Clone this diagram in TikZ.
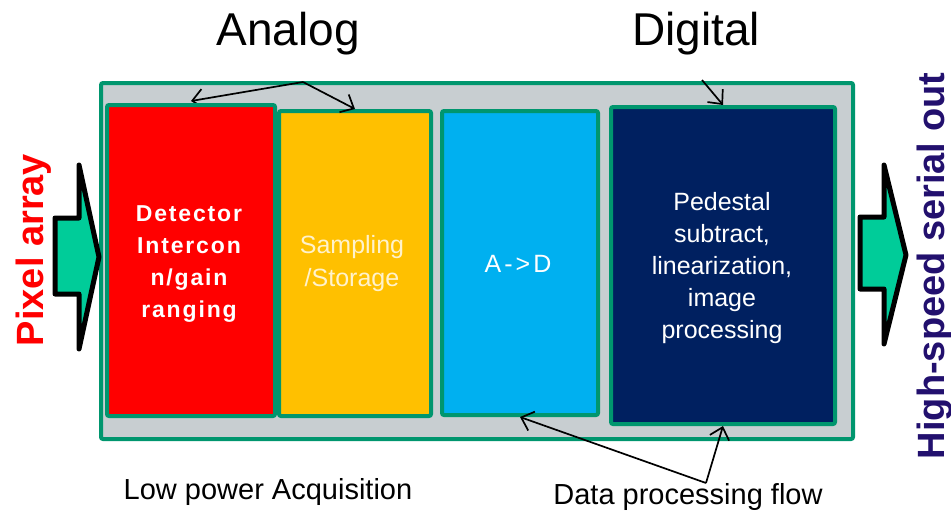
\documentclass[tikz,border=0pt]{standalone}
\usepackage{fontspec}
\setmainfont{Liberation Sans}
\usetikzlibrary{arrows.meta}
\definecolor{boxgray}{HTML}{C8CED1}
\definecolor{bordergreen}{HTML}{00966E}
\definecolor{redbox}{HTML}{FF0000}
\definecolor{yellowbox}{HTML}{FFC000}
\definecolor{cyanbox}{HTML}{00B0F0}
\definecolor{navybox}{HTML}{002060}
\definecolor{arrowgreen}{HTML}{00CC99}
\definecolor{paleyellow}{HTML}{FFF2CC}
\definecolor{indigo}{RGB}{34,16,110}
\begin{document}
\begin{tikzpicture}[x=1pt,y=-1pt,
  block/.style={draw=bordergreen, line width=4pt, rounded corners=2pt, inner sep=0pt, anchor=north west},
  conn/.style={draw=black, line width=1.7pt, -{Straight Barb[length=11pt,width=20pt]}},
  bigarrow/.style={fill=arrowgreen, draw=black, line width=5pt, line join=round},
  boxtext/.style={align=center, inner sep=0pt},
  title/.style={font=\fontsize{46}{50}\selectfont, anchor=base, inner sep=0pt},
  caption/.style={font=\fontsize{29}{32}\selectfont, anchor=base, inner sep=0pt}
]
\useasboundingbox (0,0) rectangle (951,512);

% outer container
\node[block, fill=boxgray, minimum width=752pt, minimum height=356pt] (outer) at (99,81) {};

% fork points of the connectors
\coordinate (fork1) at (303,82);
\coordinate (fork2) at (702,80);
\coordinate (fork3) at (706,483);

% inner blocks
\node[block, fill=yellowbox, minimum width=152pt, minimum height=305pt] (yellow) at (277,109) {};
\draw[conn] (fork1) -- (191,101);
\node[block, fill=redbox, minimum width=168pt, minimum height=311pt] (red) at (105,103) {};
\node[block, fill=cyanbox, minimum width=156pt, minimum height=304pt] (blue) at (440,109) {};
\node[block, fill=navybox, minimum width=224pt, minimum height=317pt] (navy) at (609,105) {};

% block texts
\node[boxtext, text=white, font=\bfseries\fontsize{23}{32}\selectfont\addfontfeature{LetterSpace=8}] (redtxt) at (189,264) {Detector\\Intercon\\n/gain\\ranging};
\node[boxtext, text=paleyellow, font=\fontsize{25}{33}\selectfont] (yellowtxt) at (352,264) {Sampling\\/Storage};
\node[boxtext, text=white, font=\fontsize{25}{32}\selectfont\addfontfeature{LetterSpace=12}] (bluetxt) at (518,264) {A->D};
\node[boxtext, text=white, font=\fontsize{25}{32}\selectfont] (navytxt) at (722,268) {Pedestal\\subtract,\\linearization,\\image\\processing};

% connectors
\draw[conn] (fork1) -- (yellow.north);
\draw[conn] (fork2) -- (navy.north);
\draw[conn] (fork3) -- (blue.south);
\draw[conn] (fork3) -- (navy.south);

% block arrows
\draw[bigarrow] (55,218) -- (79,218) -- (79,165) -- (99,257) -- (79,349) -- (79,294) -- (55,294) -- cycle;
\draw[bigarrow] (860,217) -- (884,217) -- (884,165) -- (906,255) -- (884,344) -- (884,289) -- (860,289) -- cycle;

% titles
\node[title] (analog) at (288,45) {Analog};
\node[title] (digital) at (696,45) {Digital};
\node[caption] (lowpower) at (268,499) {Low power Acquisition};
\node[caption] (dataflow) at (688,504) {Data processing flow};

% side labels
\node[rotate=90, anchor=base, inner sep=0pt, text=redbox, font=\bfseries\fontsize{38}{40}\selectfont] (pixel) at (43,250) {Pixel array};
\node[rotate=90, anchor=base, inner sep=0pt, text=indigo, font=\bfseries\fontsize{38}{40}\selectfont] (serial) at (944,266) {High-speed serial out};
\end{tikzpicture}
\end{document}
